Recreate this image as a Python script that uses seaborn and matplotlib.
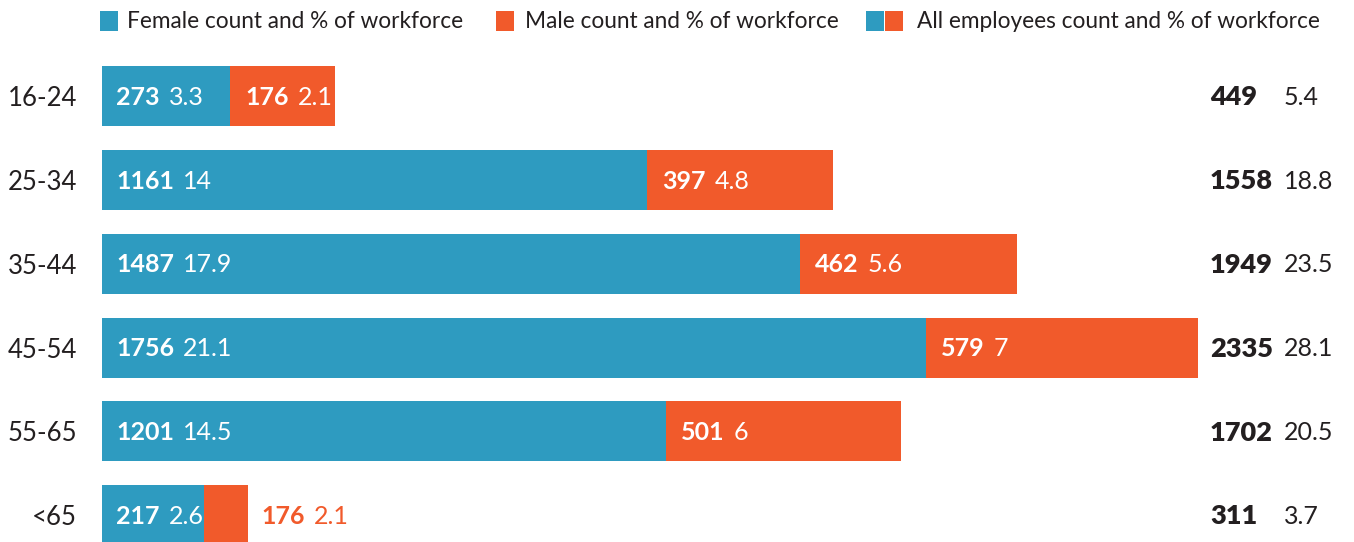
import matplotlib
matplotlib.use('Agg')
import matplotlib.pyplot as plt
import seaborn as sns
import pandas as pd
from matplotlib.patches import Rectangle

# ---------------- data ----------------
age_groups = ['16-24', '25-34', '35-44', '45-54', '55-65', '<65']
female_count = [273, 1161, 1487, 1756, 1201, 217]
female_pct = ['3.3', '14', '17.9', '21.1', '14.5', '2.6']
male_count_label = [176, 397, 462, 579, 501, 176]   # as printed on the chart
male_pct = ['2.1', '4.8', '5.6', '7', '6', '2.1']
male_bar = [224, 397, 462, 579, 501, 94]           # drawn bar lengths
total_count = [449, 1558, 1949, 2335, 1702, 311]
total_pct = ['5.4', '18.8', '23.5', '28.1', '20.5', '3.7']

legend_labels = ['Female count and % of workforce',
                 'Male count and % of workforce',
                 'All employees count and % of workforce']

BLUE = '#2E9BC0'
ORANGE = '#F15A2B'
DARK = '#231F20'

df = pd.DataFrame({
    'age': age_groups,
    'female': female_count,
    'stack': [f + m for f, m in zip(female_count, male_bar)],
})

sns.set_theme(style='white')
plt.rcParams['font.family'] = ['Lato', 'DejaVu Sans']

W, H = 1354, 542
fig = plt.figure(figsize=(W / 100, H / 100), dpi=100)
left_px = 102
ax = fig.add_axes([left_px / W, 0, 1 - left_px / W, 1])

sns.barplot(data=df, y='age', x='stack', color=ORANGE, orient='h',
            width=0.716, ax=ax, linewidth=0, saturation=1)
sns.barplot(data=df, y='age', x='female', color=BLUE, orient='h',
            width=0.716, ax=ax, linewidth=0, saturation=1)

px_per_unit = 1096 / 2335
ax.set_xlim(0, (W - left_px) / px_per_unit)
ax.set_ylim(5.32, -1.146)
ax.set_xlabel('')
ax.set_ylabel('')
ax.set_xticks([])
sns.despine(ax=ax, left=True, bottom=True)
ax.tick_params(axis='y', length=0, pad=18, labelsize=18.5, labelcolor=DARK)

def pair(x, y, a, b, color, offset_px):
    t = ax.annotate(str(a), xy=(x, y), xytext=(offset_px * 0.72, 0),
                    textcoords='offset points', ha='left', va='center',
                    fontsize=18, fontweight='bold', color=color)
    ax.annotate(b, xy=(1, 0.5), xycoords=t, xytext=(6.5, 0),
                textcoords='offset points', ha='left', va='center',
                fontsize=18, color=color)

trans = ax.get_yaxis_transform()
for i in range(len(age_groups)):
    yc = i + 0.015
    pair(0, yc, female_count[i], female_pct[i], 'white', 14)
    if male_bar[i] > 150:
        pair(female_count[i], yc, male_count_label[i], male_pct[i], 'white', 15)
    else:
        pair(female_count[i] + male_bar[i], yc, male_count_label[i],
             male_pct[i], ORANGE, 13)
    ax.text((1210 - left_px) / (W - left_px), yc, str(total_count[i]),
            transform=trans, ha='left', va='center', fontsize=19.5,
            fontweight='heavy', color=DARK)
    ax.text((1284 - left_px) / (W - left_px), yc, total_pct[i],
            transform=trans, ha='left', va='center', fontsize=18, color=DARK)

# ---------------- legend ----------------
def sq(x0, color):
    fig.patches.append(Rectangle((x0 / W, 1 - 31 / H), 18 / W, 20 / H,
                                 transform=fig.transFigure, facecolor=color,
                                 edgecolor='none'))

sq(100, BLUE)
fig.text(127 / W, 1 - 22 / H, legend_labels[0], ha='left', va='center',
         fontsize=16.3, color=DARK)
sq(496, ORANGE)
fig.text(525 / W, 1 - 22 / H, legend_labels[1], ha='left', va='center',
         fontsize=16.3, color=DARK)
sq(866, BLUE)
sq(885, ORANGE)
fig.text(917 / W, 1 - 22 / H, legend_labels[2], ha='left', va='center',
         fontsize=16.3, color=DARK)

fig.savefig('out.png', dpi=100)
